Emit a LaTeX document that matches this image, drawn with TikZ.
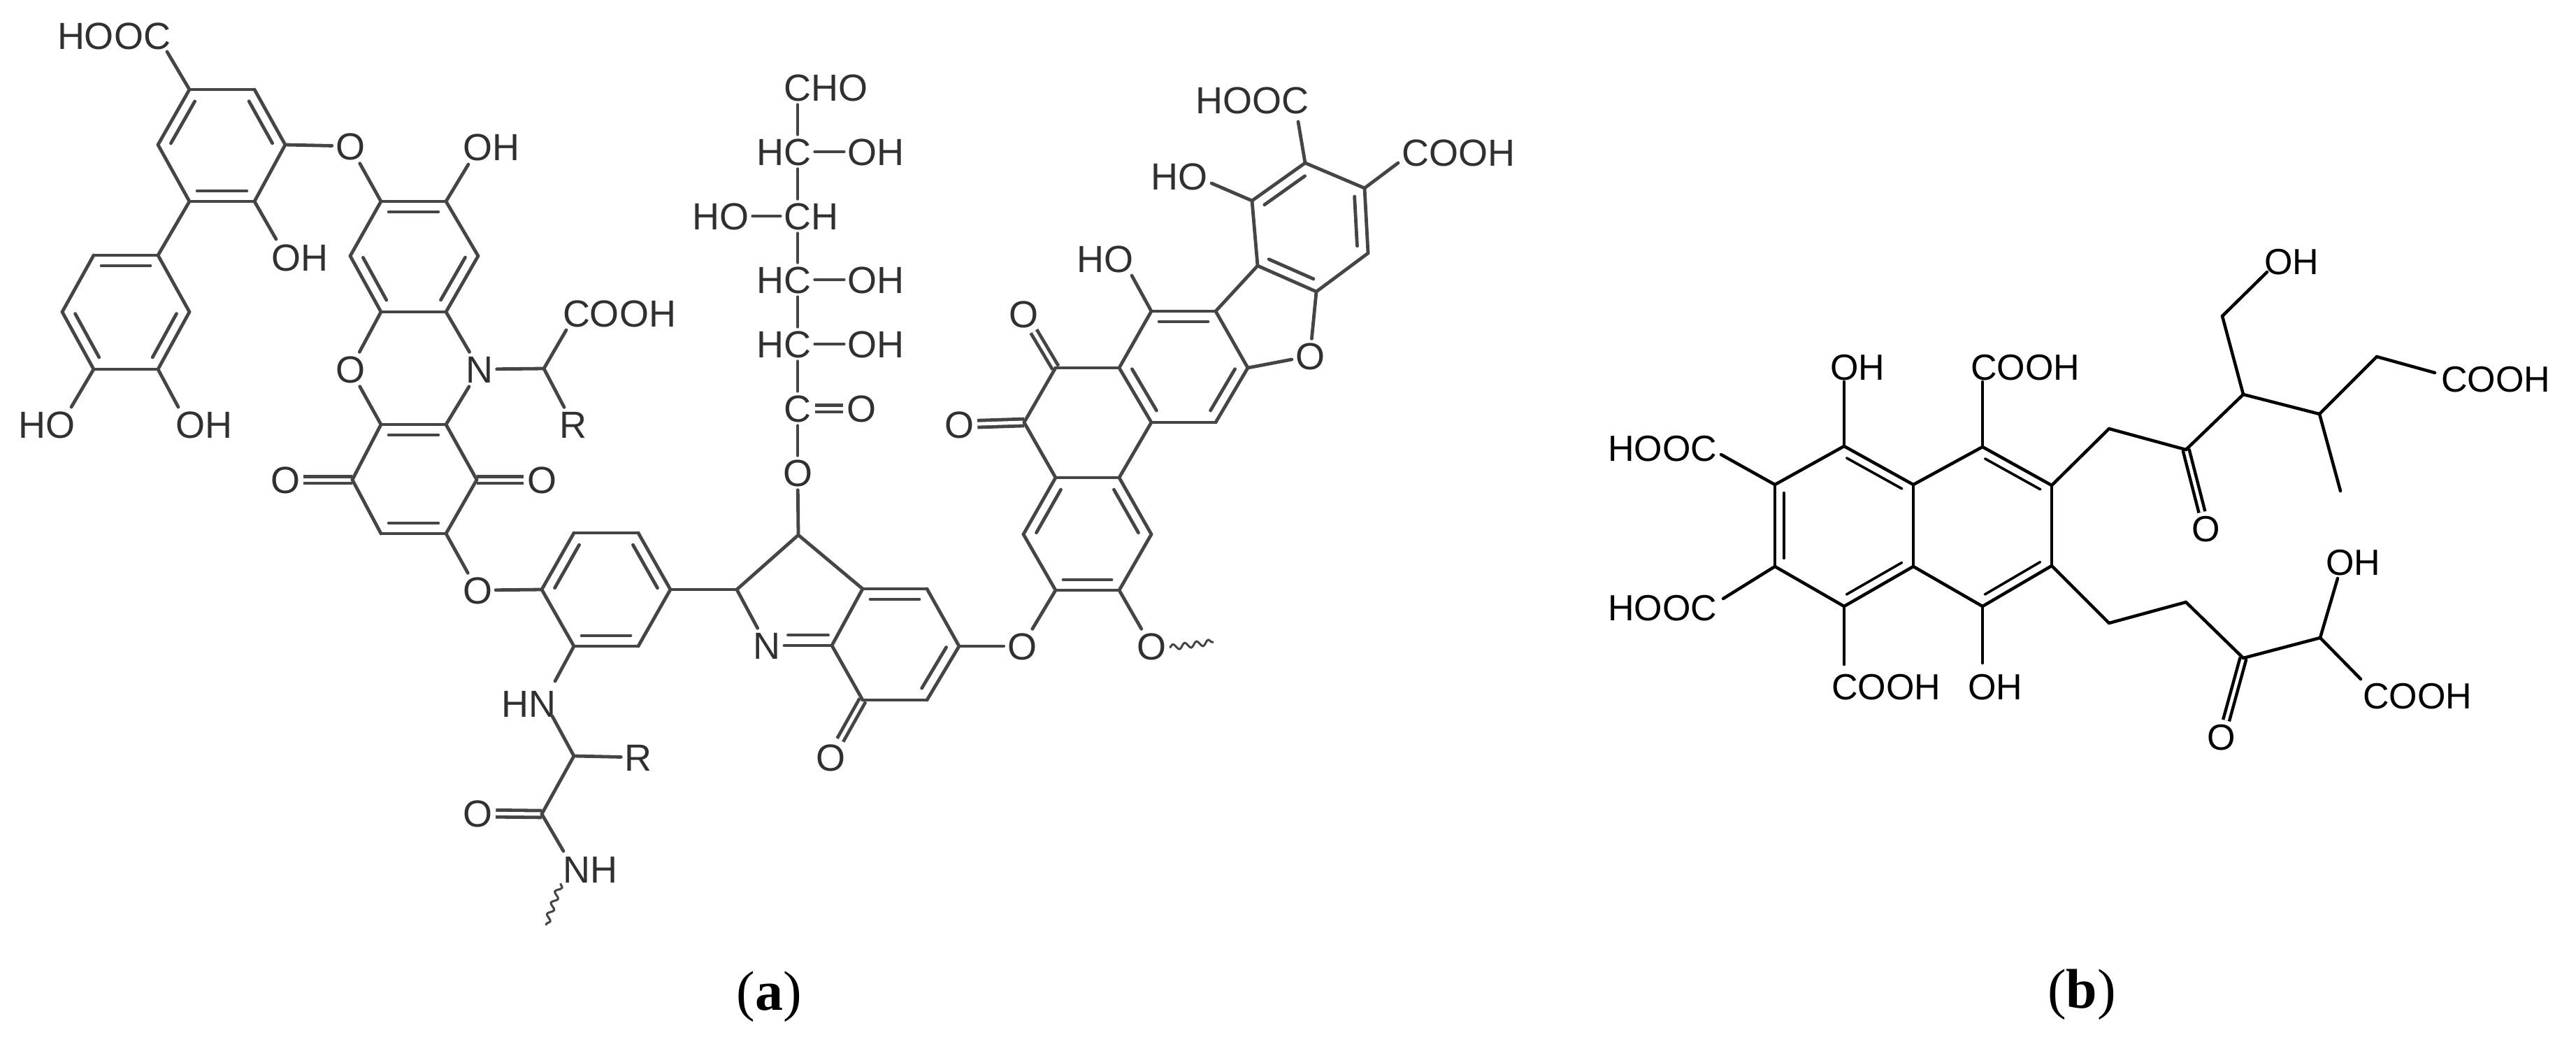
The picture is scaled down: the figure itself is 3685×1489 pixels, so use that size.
\documentclass[tikz,border=0pt]{standalone}
\usepackage{fontspec}
\setmainfont{Liberation Sans}
\newfontfamily\capfont{Liberation Serif}
\usetikzlibrary{positioning,calc,decorations.pathmorphing}
\definecolor{bondgray}{HTML}{454545}
\tikzset{
  atom/.style={inner sep=5pt,text height=39pt,text depth=0pt,text=bondgray!70!black,font=\fontsize{54}{60}\selectfont},
  atomb/.style={inner sep=5pt,text height=37pt,text depth=0pt,text=black,font=\fontsize{52}{60}\selectfont},
  bond/.style={draw=bondgray,line width=4.8pt,line cap=round},
  bondb/.style={draw=black,line width=4.5pt,line cap=round},
  innerb/.style={draw=black,line width=3.6pt,line cap=round},
  wave/.style={draw=bondgray,line width=3pt,decorate,decoration={snake,amplitude=4pt,segment length=17pt}},
  capt/.style={inner sep=0pt,font=\fontsize{80}{90}\selectfont\capfont}
}
\newcommand{\ringbond}[3][.12]{\draw[bond] ($(#2)!#1!(#3)!15pt!90:(#3)$) -- ($(#3)!#1!(#2)!15pt!-90:(#2)$);}
\newcommand{\ringbondb}[2]{\draw[innerb] ($(#1)!.1!(#2)!13pt!90:(#2)$) -- ($(#2)!.1!(#1)!13pt!-90:(#1)$);}
\begin{document}
\begin{tikzpicture}[x=1pt,y=-1pt]
\useasboundingbox (0,0) rectangle (3685,1489);

\foreach \n/\x/\y in {a1/271/128,a2/364/128,a3/408/207,a4/364/288,a5/271/288,a6/226/207,
  b1/226/365,b2/134/365,b3/89/446,b4/134/528,b5/226/528,b6/271/446,
  c1/545/288,c2/638/288,c3/684/366,c4/638/446,c5/545/446,c6/501/366,
  e1/545/607,e2/638/607,e3/682/686,e4/638/763,e5/545/763,e6/504/686,
  d1/778/527,g1/821/1081,g2/775/1164,
  f1/775/843,f2/821/762,f3/913/762,f4/959/843,f5/913/924,f6/821/924,
  h1/1054/843,h2/1142/765,h3/1234/842,h4/1190/923,
  i1/1326/842,i2/1372/924,i3/1326/1001,i4/1234/1001,
  j1/1464/764,j2/1510/683,j3/1601/683,j4/1647/764,j5/1601/844,j6/1510/844,
  k1/1647/604,k2/1601/526,k3/1510/526,k4/1465/604,
  l1/1739/604,l2/1785/526,l3/1739/445,l4/1647/445,
  m1/1799/380,m2/1883/417,m3/1957/362,m4/1952/269,m5/1867/233,m6/1791/287,
  hooc1e/239/74,oh1e/395/342,oh2e/670/235,ho1e/102/582,oh3e/255/582,cooh1e/810/472,
  hne/794/974,hne2/790/1024,nhe/806/1217,nhw/802/1263,nhz/781/1323,n2r/1122/923,
  ho2e/1619/394,hooc2e/1857/174,ho3e/1733/262,cooh2e/2000/233,o10w/1673/926,o10z/1736/918,
  p1/2638/638,p2/2737/693,p3/2737/810,p4/2638/867,p5/2539/810,p6/2539/693,
  q1/2836/639,q2/2935/694,q3/2935/809,q4/2836/867,
  t1/3017/613,t2/3127/643,t3/3209/564,t4/3318/592,t5/3400/510,t6/3179/452,t7/3348/702,
  u1/3017/891,u2/3127/861,u3/3209/941,u4/3319/912,
  oh5e/2638/546,cooh3e/2836/546,hooc3e/2462/650,hooc4e/2465/856,cooh4e/2638/950,oh6e/2836/948,
  cooh5e/3483/533,oh7e/3243/389,oh8e/3344/827,cooh6e/3377/971}
  \coordinate (\n) at (\x,\y);

\foreach \n/\x/\y/\t in {hooc1/163/51/HOOC,o1/501/209/O,oh1/429/368/OH,oh2/703/210/OH,ho1/67/607/HO,oh3/292/607/OH,
  o2/501/528/O,n1/686/528/N,cooh1/886/448/COOH,r1/820/607/R,o3/408/686/O,o4/775/686/O,o5/683/844/O,
  hn/756/1006/HN,r2/913/1083/R,o6/683/1163/O,nh/844/1243/NH,n2/1097/923/N,o7/1141/676/O,o8/1188/1083/O,
  o9/1462/924/O,o10/1647/924/O,o11/1372/607/O,o12/1464/449/O,ho2/1581/370/HO,o13/1874/509/O,
  hooc2/1791/143/HOOC,ho3/1687/252/HO,cooh2/2086/218/COOH,
  sc0/1141/125/C,sc1/1141/217/C,sc2/1141/309/C,sc3/1141/400/C,sc4/1141/492/C,sc5/1141/584/C,
  so1/1253/217/OH,so2/1031/309/HO,so3/1253/400/OH,so4/1253/492/OH,so5/1232/584/O}
  \node[atom] (\n) at (\x,\y) {\t};
\node[atom,right=-10pt of sc0] (sh0) {HO};
\node[atom,left=-10pt of sc1] (sh1) {H};
\node[atom,right=-10pt of sc2] (sh2) {H};
\node[atom,left=-10pt of sc3] (sh3) {H};
\node[atom,left=-10pt of sc4] (sh4) {H};

\foreach \s/\t in {e3/o4,e6/o3,g2/o6,sc5/so5,i4/o8,k4/o11,k3/o12}
  \draw[bond,double,double distance=5pt,line cap=butt] (\s) -- (\t);

\foreach \s/\t in {a1/a2,a2/a3,a3/a4,a4/a5,a5/a6,a6/a1,a5/b1,a4/oh1e,a3/o1,a1/hooc1e,o1/c1,
  b1/b2,b2/b3,b3/b4,b4/b5,b5/b6,b6/b1,b4/ho1e,b5/oh3e,
  c1/c2,c2/c3,c3/c4,c4/c5,c5/c6,c6/c1,c2/oh2e,c5/o2,c4/n1,o2/e1,n1/e2,n1/d1,d1/cooh1e,d1/r1,
  e1/e2,e2/e3,e3/e4,e4/e5,e5/e6,e6/e1,e4/o5,o5/f1,
  f1/f2,f2/f3,f3/f4,f4/f5,f5/f6,f6/f1,f6/hne,hne2/g1,g1/r2,g1/g2,g2/nhe,
  f4/h1,h1/h2,h2/h3,h3/h4,n2r/h4,n2/h1,h2/o7,
  h3/i1,i1/i2,i2/i3,i3/i4,i4/h4,i2/o9,o9/j6,
  sc0/sc1,sc1/sc2,sc2/sc3,sc3/sc4,sc4/sc5,sc5/o7,sc1/so1,so2/sc2,sc3/so3,sc4/so4,
  j1/j2,j2/j3,j3/j4,j4/j5,j5/j6,j6/j1,j2/k4,k4/k3,k3/k2,k2/k1,k1/j3,k1/l1,l1/l2,l2/l3,l3/l4,l4/k2,l4/ho2e,
  l3/m1,m2/o13,o13/l2,m1/m2,m2/m3,m3/m4,m4/m5,m5/m6,m6/m1,m5/hooc2e,m6/ho3e,m4/cooh2e,j5/o10}
  \draw[bond] (\s) -- (\t);

\foreach \s/\t in {a1/a6,a5/a4,a3/a2,b1/b2,b3/b4,b5/b6,c2/c1,c6/c5,c4/c3,e2/e1,e5/e4,f2/f1,f6/f5,f4/f3,
  i1/h3,i3/i2,j2/j1,j6/j5,j4/j3,l3/l4,k2/k1,l1/l2,m5/m6,m1/m2,m3/m4}
  {\ringbond{\s}{\t}}
\ringbond[.08]{n2r}{h4}

\draw[wave] (nhw) -- (nhz);
\draw[wave] (o10w) -- (o10z);

\foreach \n/\x/\y/\t in {oh5/2657/525/OH,cooh3/2897/525/COOH,hooc3/2378/641/HOOC,hooc4/2378/869/HOOC,
  cooh4/2698/982/COOH,oh6/2854/982/OH,o14/3156/756/O,oh7/3278/374/OH,cooh5/3570/542/COOH,
  o15/3178/1054/O,oh8/3366/804/OH,cooh6/3458/995/COOH}
  \node[atomb] (\n) at (\x,\y) {\t};

\foreach \s/\t in {t2/o14,u3/o15}
  \draw[bondb,double,double distance=4.5pt,line cap=butt] (\s) -- (\t);

\foreach \s/\t in {p1/p2,p2/p3,p3/p4,p4/p5,p5/p6,p6/p1,p2/q1,q1/q2,q2/q3,q3/q4,q4/p3,
  p1/oh5e,q1/cooh3e,p6/hooc3e,p5/hooc4e,p4/cooh4e,q4/oh6e,
  q2/t1,t1/t2,t2/t3,t3/t4,t4/t5,t5/cooh5e,t3/t6,t6/oh7e,t4/t7,
  q3/u1,u1/u2,u2/u3,u3/u4,u4/oh8e,u4/cooh6e}
  \draw[bondb] (\s) -- (\t);

\foreach \s/\t in {p1/p2,p5/p6,p3/p4,q1/q2,q3/q4}
  {\ringbondb{\t}{\s}}

\node[capt] (capa) at (1100,1425) {(\textbf{a})};
\node[capt] (capb) at (2978,1422) {(\textbf{b})};
\end{tikzpicture}
\end{document}
